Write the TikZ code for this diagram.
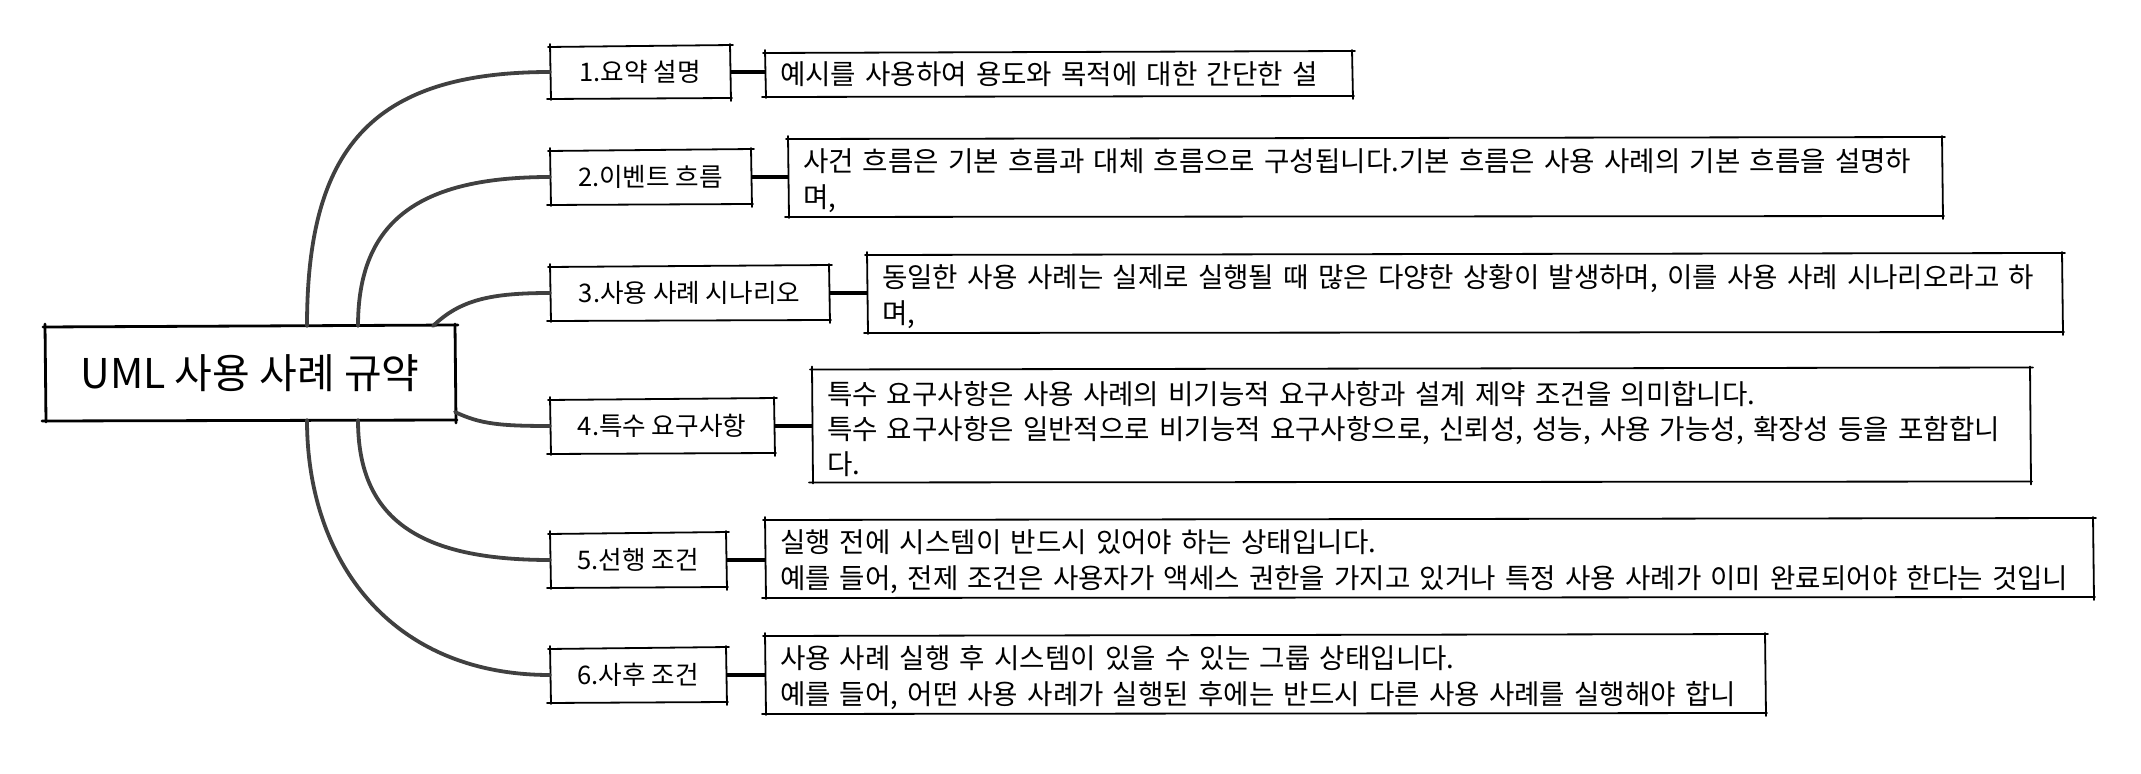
\documentclass[tikz,border=0pt]{standalone}
\usepackage{fontspec}
\setmainfont{Noto Sans CJK KR}
\usetikzlibrary{calc}
\definecolor{branch}{HTML}{404040}
\tikzset{
  labelbox/.style={anchor=west, inner sep=0pt, outer sep=0pt, minimum height=27pt, font=\fontsize{12.8}{15}\selectfont},
  descbox/.style={anchor=west, inner xsep=7.5pt, inner ysep=0pt, outer sep=0pt, align=left, font=\fontsize{13.8}{18}\selectfont},
  branchline/.style={draw=branch, line width=1.9pt, line cap=round},
  linkline/.style={draw=black, line width=1.6pt},
  skline/.style={draw=black, line width=0.9pt, line cap=round},
}
\newcommand\firststrut{\rule{0pt}{15.5pt}}
\newcommand\skbox[2][0.9pt]{%
  \draw[skline, line width=#1] ($(#2.north west)+(-2,1)$) -- ($(#2.north east)+(3,-1)$);
  \draw[skline, line width=#1] ($(#2.north east)+(0,-2)$) -- ($(#2.south east)+(1,3)$);
  \draw[skline, line width=#1] ($(#2.south east)+(2,0)$) -- ($(#2.south west)+(-3,1)$);
  \draw[skline, line width=#1] ($(#2.south west)+(1,2)$) -- ($(#2.north west)+(0,-2)$);
}
\begin{document}
\begin{tikzpicture}[x=0.5pt,y=-0.5pt]
\useasboundingbox (0,0) rectangle (2141,774);

% root
\node[anchor=center, minimum width=205pt, minimum height=47pt, inner sep=0pt, outer sep=0pt,
      font=\fontsize{20.5}{24}\selectfont] (root) at (250,373) {UML 사용 사례 규약};
\skbox[1.4pt]{root}

% branch labels
\node[labelbox, minimum width=90pt, minimum height=26pt] (l1) at (550,72) {1.요약 설명};
\node[labelbox, minimum width=100.5pt] (l2) at (550,177) {2.이벤트 흐름};
\node[labelbox, minimum width=139.5pt] (l3) at (550,293) {3.사용 사례 시나리오};
\node[labelbox, minimum width=112pt] (l4) at (550,426) {4.특수 요구사항};
\node[labelbox, minimum width=88pt] (l5) at (550,560) {5.선행 조건};
\node[labelbox, minimum width=88pt] (l6) at (550,675) {6.사후 조건};
\foreach \n in {l1,l2,l3,l4,l5,l6} {\skbox{\n}}

% descriptions
\node[descbox, text width=278.5pt, minimum height=22pt] (d1) at (765,74)
  {\mbox{예시를 사용하여 용도와 목적에 대한 간단한 설}};
\node[descbox, text width=562pt, minimum height=39pt] (d2) at (788,177)
  {\firststrut\mbox{사건 흐름은 기본 흐름과 대체 흐름으로 구성됩니다.기본 흐름은 사용 사례의 기본 흐름을 설명하}\\\mbox{며,}};
\node[descbox, text width=582.5pt, minimum height=39pt] (d3) at (867,293)
  {\firststrut\mbox{동일한 사용 사례는 실제로 실행될 때 많은 다양한 상황이 발생하며, 이를 사용 사례 시나리오라고 하}\\\mbox{며,}};
\node[descbox, text width=594pt, minimum height=56.5pt, font=\fontsize{13.8}{17.5}\selectfont] (d4) at (812,425)
  {\firststrut\mbox{특수 요구사항은 사용 사례의 비기능적 요구사항과 설계 제약 조건을 의미합니다.}\\\mbox{특수 요구사항은 일반적으로 비기능적 요구사항으로, 신뢰성, 성능, 사용 가능성, 확장성 등을 포함합니}\\\mbox{다.}};
\node[descbox, text width=649pt, minimum height=39pt] (d5) at (765,558)
  {\firststrut\mbox{실행 전에 시스템이 반드시 있어야 하는 상태입니다.}\\\mbox{예를 들어, 전제 조건은 사용자가 액세스 권한을 가지고 있거나 특정 사용 사례가 이미 완료되어야 한다는 것입니}};
\node[descbox, text width=485pt, minimum height=39pt] (d6) at (765,674)
  {\firststrut\mbox{사용 사례 실행 후 시스템이 있을 수 있는 그룹 상태입니다.}\\\mbox{예를 들어, 어떤 사용 사례가 실행된 후에는 반드시 다른 사용 사례를 실행해야 합니}};
\foreach \n in {d1,d2,d3,d4,d5,d6} {\skbox{\n}}

% branches from root
\draw[branchline] ($(root.north)+(57,0)$) .. controls (307,150) and (370,72) .. (l1.west);
\draw[branchline] ($(root.north)+(108,0)$) .. controls (358,220) and (420,177) .. (l2.west);
\draw[branchline] ($(root.north)+(183,0)$) .. controls (460,300) and (490,293) .. (l3.west);
\draw[branchline] ($(root.east)+(0,39)$) .. controls (480,424) and (500,426) .. (l4.west);
\draw[branchline] ($(root.south)+(108,0)$) .. controls (358,520) and (420,560) .. (l5.west);
\draw[branchline] ($(root.south)+(57,0)$) .. controls (307,560) and (390,675) .. (l6.west);

% label to description links
\foreach \i in {1,...,6} {\draw[linkline] (l\i.east) -- (l\i.east -| d\i.west);}
\end{tikzpicture}
\end{document}
